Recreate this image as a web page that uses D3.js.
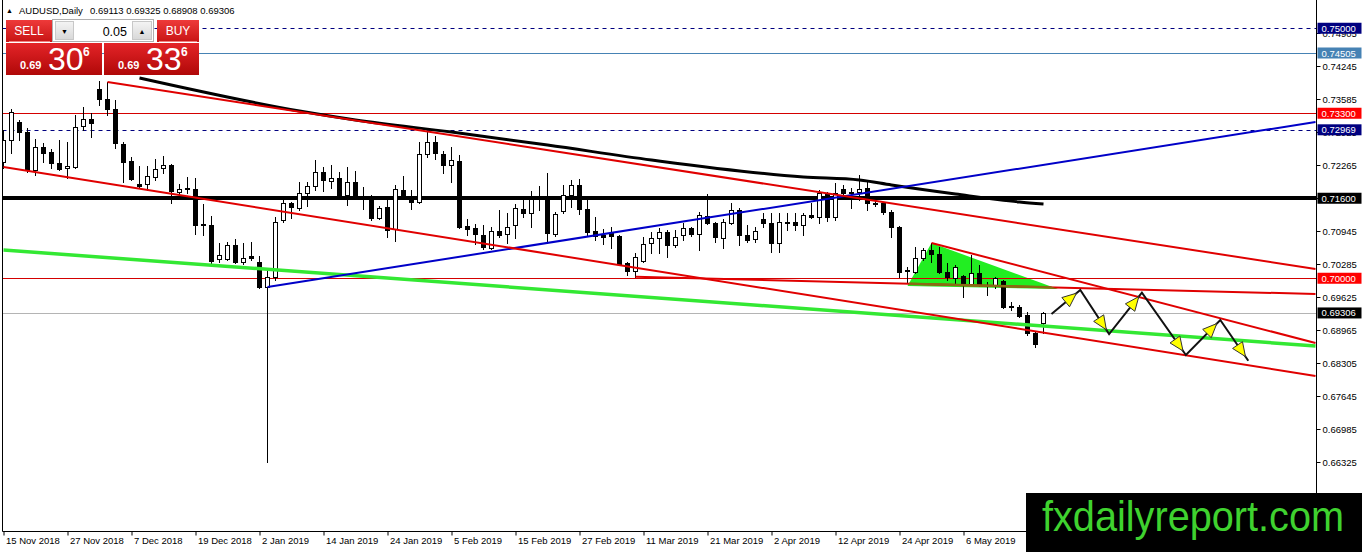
<!DOCTYPE html>
<html><head><meta charset="utf-8">
<script src="https://cdn.jsdelivr.net/npm/d3@7/dist/d3.min.js"></script>
<style>
body{margin:0;background:#fff;overflow:hidden;}
svg{display:block;}
text{font-family:"Liberation Sans",Arial,sans-serif;}
</style>
</head><body>
<svg id="chart" width="1362" height="552"></svg>
<script>
// ---------------- DATA ----------------
const symbolTitle = "AUDUSD,Daily";
const headerOHLC = "0.69113 0.69325 0.68908 0.69306";

const barOpen = [
0.72325,0.72765,0.73125,0.72925,0.72165,0.72625,0.72525,0.72305,0.72205,0.72225,
0.73045,0.73185,0.73785,0.73585,0.73385,0.72685,0.72345,0.71885,0.71885,0.72025,
0.72205,0.72265,0.71725,0.71805,0.71785,0.71085,0.71065,0.70385,0.70385,0.70665,
0.70325,0.70445,0.70325,0.69825,0.70025,0.71165,0.71505,0.71405,0.71705,0.71845,
0.72125,0.71945,0.72005,0.71665,0.71925,0.71645,0.71605,0.71205,0.71425,0.70985,
0.71765,0.71645,0.71525,0.72485,0.72725,0.72485,0.72265,0.72345,0.71045,0.71005,
0.70865,0.70605,0.70945,0.70885,0.71065,0.71385,0.71305,0.71585,0.71585,0.70885,
0.71345,0.71665,0.71865,0.71385,0.70945,0.70865,0.70905,0.70845,0.70305,0.70145,
0.70345,0.70705,0.70805,0.70925,0.70665,0.70865,0.71005,0.70885,0.71245,0.71105,
0.70805,0.71105,0.71365,0.70865,0.70785,0.71185,0.71105,0.70705,0.71105,0.71125,
0.71065,0.71265,0.71225,0.71685,0.71225,0.71785,0.71725,0.71725,0.71805,0.71505,
0.71505,0.71325,0.71025,0.70145,0.70125,0.70405,0.70565,0.70485,0.70125,0.70005,
0.70045,0.69885,0.70105,0.69845,0.69865,0.69945,0.69445,0.69425,0.69265,0.68905,
0.69113];
const barHigh = [
0.72965,0.73385,0.73165,0.73005,0.72785,0.72705,0.72585,0.72765,0.72725,0.73265,
0.73425,0.73305,0.73945,0.73925,0.73565,0.72725,0.72425,0.72245,0.72245,0.72385,
0.72445,0.72285,0.71885,0.72025,0.72005,0.71485,0.71245,0.70705,0.70725,0.70785,
0.70705,0.70725,0.70445,0.70185,0.71225,0.71565,0.71525,0.71925,0.71925,0.72365,
0.72225,0.72265,0.72125,0.72225,0.72145,0.71825,0.71665,0.71445,0.71645,0.71865,
0.72045,0.71765,0.72725,0.72925,0.72845,0.72545,0.72625,0.72465,0.71185,0.71085,
0.71065,0.71025,0.71365,0.71305,0.71485,0.71585,0.71745,0.71845,0.72105,0.71325,
0.71865,0.71965,0.71985,0.71645,0.71225,0.70985,0.71025,0.70865,0.70325,0.70505,
0.70825,0.70925,0.71005,0.70965,0.70965,0.71105,0.71025,0.71325,0.71685,0.71125,
0.71185,0.71505,0.71405,0.71065,0.71025,0.71305,0.71305,0.71305,0.71305,0.71305,
0.71305,0.71505,0.71765,0.71725,0.71905,0.71865,0.71805,0.72065,0.71965,0.71545,
0.71525,0.71365,0.71045,0.70225,0.70625,0.70605,0.70705,0.70625,0.70305,0.70265,
0.70065,0.70465,0.70265,0.69925,0.70025,0.69965,0.69525,0.69465,0.69325,0.68925,
0.69325];
const barLow = [
0.72205,0.72505,0.72765,0.72125,0.72065,0.72325,0.72205,0.72165,0.72005,0.72205,
0.72965,0.72825,0.73465,0.73265,0.72605,0.71925,0.71965,0.71825,0.71765,0.71965,
0.72105,0.71505,0.71665,0.71705,0.70885,0.70865,0.70285,0.70325,0.70365,0.70305,
0.70285,0.70365,0.69805,0.66325,0.69965,0.71125,0.71205,0.71365,0.71445,0.71765,
0.71745,0.71805,0.71625,0.71465,0.71605,0.71385,0.71165,0.71185,0.70825,0.70745,
0.71605,0.71385,0.71505,0.72425,0.72385,0.72105,0.71925,0.71005,0.70865,0.70685,
0.70585,0.70585,0.70825,0.70705,0.70805,0.71225,0.71025,0.71365,0.70705,0.70845,
0.71305,0.71425,0.71285,0.70865,0.70765,0.70685,0.70605,0.70265,0.70065,0.70025,
0.70325,0.70505,0.70505,0.70425,0.70625,0.70765,0.70845,0.70565,0.71085,0.70725,
0.70605,0.71085,0.70665,0.70725,0.70725,0.71025,0.70525,0.70525,0.70965,0.70965,
0.70865,0.71205,0.71105,0.71145,0.71165,0.71625,0.71405,0.71565,0.71365,0.71445,
0.71285,0.70825,0.70025,0.69905,0.70105,0.70365,0.70325,0.70105,0.69965,0.69865,
0.69625,0.69865,0.69845,0.69665,0.69805,0.69405,0.69365,0.69225,0.68865,0.68625,
0.68908];
const barClose = [
0.72765,0.73325,0.72925,0.72165,0.72625,0.72505,0.72305,0.72185,0.72245,0.73025,
0.73185,0.73105,0.73585,0.73385,0.72705,0.72325,0.71985,0.71845,0.72045,0.72185,
0.72265,0.71745,0.71785,0.71785,0.71065,0.71065,0.70345,0.70465,0.70665,0.70325,
0.70405,0.70405,0.69825,0.70025,0.71125,0.71505,0.71425,0.71705,0.71845,0.72125,
0.71965,0.72005,0.71665,0.71925,0.71645,0.71605,0.71205,0.71405,0.70965,0.71785,
0.71625,0.71525,0.72485,0.72725,0.72505,0.72265,0.72365,0.71025,0.70985,0.70885,
0.70625,0.70945,0.70865,0.71025,0.71405,0.71305,0.71585,0.71605,0.70905,0.71285,
0.71665,0.71865,0.71385,0.70925,0.70845,0.70825,0.70845,0.70285,0.70145,0.70425,
0.70685,0.70805,0.70925,0.70665,0.70825,0.71005,0.70885,0.71265,0.71105,0.70825,
0.71125,0.71365,0.70865,0.70765,0.70945,0.71105,0.70705,0.71125,0.71125,0.71065,
0.71265,0.71225,0.71705,0.71225,0.71705,0.71705,0.71705,0.71785,0.71505,0.71485,
0.71325,0.71025,0.70125,0.70165,0.70405,0.70565,0.70485,0.70125,0.70025,0.70225,
0.69865,0.70105,0.69865,0.69865,0.70005,0.69425,0.69425,0.69245,0.68905,0.68685,
0.69306];

const dateTickIdx = [0,8,16,24,32,40,48,56,64,72,80,88,96,104,112,120];
const dateLabels = ["15 Nov 2018","27 Nov 2018","7 Dec 2018","19 Dec 2018","2 Jan 2019","14 Jan 2019",
  "24 Jan 2019","5 Feb 2019","15 Feb 2019","27 Feb 2019","11 Mar 2019","21 Mar 2019","2 Apr 2019",
  "12 Apr 2019","24 Apr 2019","6 May 2019"];
const priceTicks = [0.65665,0.66325,0.66985,0.67645,0.68305,0.68965,0.69625,0.70285,0.70945,
  0.71605,0.72265,0.72925,0.73585,0.74245,0.74905];

// moving average curve (bar index, price)
const maIdx = [17,37,44,56,68,81,100,107,111,119,127,130];
const maVal = [0.74005,0.73345,0.73165,0.72925,0.72665,0.72365,0.72025,0.71965,0.71865,0.71685,0.71525,0.71485];

// horizontal levels
const levelPrices = [0.75000,0.74505,0.73300,0.72969,0.71600,0.70000,0.69306];
const levelKinds  = ["navyDash","steel","redThin","navyDash","blackThick","redThin","bid"];

// trend lines: [startBar, startPrice, endBar, endPrice]
const upperChannel = [13,0.73925,164,0.70185];
const lowerChannel = [0,0.72225,164,0.68045];
const greenLine    = [0,0.70565,164,0.68645];
const blueLine     = [33,0.69825,164,0.73125];
const redSupport   = [79,0.70030,164,0.69685];
const triangleTop  = [116,0.70705,164,0.68705];

// triangle vertices
const triIdx = [116,113,131.8];
const triVal = [0.70705,0.69845,0.69785];

// projected zigzag path
const zigIdx = [131,134.6,138.2,142.3,147.8,152.1,155.6];
const zigVal = [0.69285,0.69765,0.68885,0.69711,0.68465,0.69165,0.68351];

// trade panel
const sellBig = "30", buyBig = "33", pipFrac = "6", priceHandle = "0.69", lotSize = "0.05";
const logoText = "fxdailyreport.com";

// ---------------- CHART ----------------
const svg = d3.select("#chart");
const W = 1362, H = 552;
const plotL = 2.5, plotR = 1316.5, plotB = 531.5;

const x = d3.scaleLinear().domain([0,130]).range([3.5,1043.5]);
const y = d3.scaleLinear().domain([0.65665,0.75]).range([495,28.25]);

svg.append("rect").attr("width",W).attr("height",H).attr("fill","#fff");

const defs = svg.append("defs");
defs.append("clipPath").attr("id","plotclip").append("rect")
  .attr("x",plotL).attr("y",0).attr("width",plotR-plotL).attr("height",plotB);
defs.append("clipPath").attr("id","triclip").append("polygon")
  .attr("points",triIdx.map((d,k)=>[x(d),y(triVal[k])].join(",")).join(" "));
function grad(id,c1,c2){
  const g = defs.append("linearGradient").attr("id",id).attr("x1",0).attr("y1",0).attr("x2",0).attr("y2",1);
  g.append("stop").attr("offset","0%").attr("stop-color",c1);
  g.append("stop").attr("offset","100%").attr("stop-color",c2);
}
grad("gBtn","#ee3a3a","#c81414");
grad("gBox","#e42428","#b00808");
grad("gGray","#f4f4f4","#d8d8d8");

const plot = svg.append("g").attr("clip-path","url(#plotclip)");

// triangle (background object)
const triPts = triIdx.map((d,k)=>[x(d),y(triVal[k])]);
plot.append("polygon").attr("points",triPts.map(p=>p.join(",")).join(" "))
  .attr("fill","#22ee22");

// horizontal levels
const levelStyle = {
  navyDash:{stroke:"#000080",w:1,dash:"4,4"},
  steel:{stroke:"#4682b4",w:1,dash:null},
  redThin:{stroke:"#d40000",w:1,dash:null},
  blackThick:{stroke:"#000",w:4,dash:null},
  bid:{stroke:"#b4b4b4",w:1,dash:null}
};
levelPrices.forEach((p,k)=>{
  const s = levelStyle[levelKinds[k]];
  const yy = s.w%2 ? Math.round(y(p))+0.5 : Math.round(y(p));
  plot.append("line").attr("x1",plotL).attr("x2",plotR).attr("y1",yy).attr("y2",yy)
    .attr("stroke",s.stroke).attr("stroke-width",s.w).attr("stroke-dasharray",s.dash);
});

// candles
const bars = barOpen.map((o,i)=>({i,o,h:barHigh[i],l:barLow[i],c:barClose[i]}));
const cg = plot.append("g");
cg.selectAll("line.wick").data(bars).join("line").attr("class","wick")
  .attr("x1",d=>x(d.i)).attr("x2",d=>x(d.i))
  .attr("y1",d=>Math.round(y(d.h))).attr("y2",d=>Math.round(y(d.l))+1)
  .attr("stroke","#000").attr("stroke-width",1);
cg.selectAll("rect.body").data(bars).join("rect").attr("class","body")
  .attr("x",d=>x(d.i)-2).attr("width",4)
  .attr("y",d=>Math.round(y(Math.max(d.o,d.c)))+0.5)
  .attr("height",d=>Math.max(0.01,Math.round(y(Math.min(d.o,d.c)))-Math.round(y(Math.max(d.o,d.c)))))
  .attr("fill",d=>d.c>d.o?"#fff":"#000").attr("stroke","#000").attr("stroke-width",1);

// moving average
plot.append("path").datum(maIdx.map((d,k)=>[x(d),y(maVal[k])]))
  .attr("d",d3.line().curve(d3.curveMonotoneX))
  .attr("fill","none").attr("stroke","#000").attr("stroke-width",3);

// trend lines
function tline(t,color,w,clip){
  const l = plot.append("line").attr("x1",x(t[0])).attr("y1",y(t[1])).attr("x2",x(t[2])).attr("y2",y(t[3]))
    .attr("stroke",color).attr("stroke-width",w);
  if(clip) l.attr("clip-path",clip);
}
tline(greenLine,"#33e833",3.5);
tline(blueLine,"#0000c8",2);
tline(upperChannel,"#e00000",2);
tline(lowerChannel,"#e00000",2);
tline(redSupport,"#e00000",2);
tline(redSupport,"#8a6a14",2.5,"url(#triclip)");
tline(triangleTop,"#e00000",2);

// zigzag projection
const zp = zigIdx.map((d,k)=>[x(d),y(zigVal[k])]);
plot.append("path").datum(zp).attr("d",d3.line())
  .attr("fill","none").attr("stroke","#111").attr("stroke-width",2);
for(let k=1;k<zp.length;k++){
  const [x0,y0]=zp[k-1],[x1,y1]=zp[k];
  const len=Math.hypot(x1-x0,y1-y0), ux=(x1-x0)/len, uy=(y1-y0)/len;
  const tx=x1-ux*5, ty=y1-uy*5, L=14, hw=6;
  const bx=tx-ux*L, by=ty-uy*L;
  const pts=[[tx,ty],[bx-uy*hw,by+ux*hw],[bx+uy*hw,by-ux*hw]];
  plot.append("polygon").attr("points",pts.map(p=>p.join(",")).join(" "))
    .attr("fill","#ffff00").attr("stroke","#333").attr("stroke-width",1);
}

// frame
svg.append("line").attr("x1",plotL).attr("x2",plotL).attr("y1",0).attr("y2",plotB).attr("stroke","#000");
svg.append("line").attr("x1",plotL).attr("x2",plotR).attr("y1",plotB).attr("y2",plotB).attr("stroke","#000");
svg.append("line").attr("x1",plotR).attr("x2",plotR).attr("y1",0).attr("y2",plotB).attr("stroke","#000");

// bottom axis
const xAxis = svg.append("g").attr("transform",`translate(0,${plotB})`)
  .call(d3.axisBottom(x).tickValues(dateTickIdx).tickFormat((d,k)=>dateLabels[k]).tickSize(4));
xAxis.select(".domain").remove();
xAxis.selectAll("text").attr("text-anchor","start").attr("x",2).attr("y",6)
  .style("font-family","Liberation Sans, Arial, sans-serif").style("font-size","9.5px").attr("fill","#000");

// right axis
const yAxis = svg.append("g").attr("transform",`translate(${plotR},0)`)
  .call(d3.axisRight(y).tickValues(priceTicks).tickFormat(d3.format(".5f")).tickSize(4));
yAxis.select(".domain").remove();
yAxis.selectAll("text").attr("x",6)
  .style("font-family","Liberation Sans, Arial, sans-serif").style("font-size","9.5px").attr("fill","#000");

// level labels
const labelBg = {navyDash:"#000080",steel:"#4682b4",redThin:"#ff0000",blackThick:"#000",bid:"#000"};
levelPrices.forEach((p,k)=>{
  const yy = y(p);
  svg.append("rect").attr("x",plotR+1).attr("y",yy-5.5).attr("width",44).attr("height",11)
    .attr("fill",labelBg[levelKinds[k]]);
  svg.append("text").attr("x",plotR+5).attr("y",yy+3.5).attr("fill","#fff")
    .style("font-size","9.5px").text(d3.format(".5f")(p));
});

// header
svg.append("text").attr("x",6).attr("y",13).style("font-size","7px").text("▲");
svg.append("text").attr("x",19).attr("y",14).style("font-size","9.5px").text(symbolTitle);
svg.append("text").attr("x",90).attr("y",14).style("font-size","9.5px").text(headerOHLC);

// trade panel
const panel = svg.append("g");
panel.append("rect").attr("x",6).attr("y",20).attr("width",46).attr("height",22).attr("fill","url(#gBtn)");
panel.append("line").attr("x1",9).attr("x2",50).attr("y1",41.5).attr("y2",41.5).attr("stroke","#f08080");
panel.append("text").attr("x",29).attr("y",35).attr("text-anchor","middle").attr("fill","#fff")
  .style("font-size","12px").text("SELL");
panel.append("rect").attr("x",52.5).attr("y",19.5).attr("width",101).attr("height",22)
  .attr("fill","#fff").attr("stroke","#b0b0b0");
panel.append("rect").attr("x",55.5).attr("y",21.5).attr("width",18).attr("height",18)
  .attr("fill","url(#gGray)").attr("stroke","#c8c8c8");
panel.append("text").attr("x",64.5).attr("y",34).attr("text-anchor","middle").style("font-size","7px").text("▼");
panel.append("rect").attr("x",132.5).attr("y",21.5).attr("width",19).attr("height",18)
  .attr("fill","url(#gGray)").attr("stroke","#c8c8c8");
panel.append("text").attr("x",142).attr("y",34).attr("text-anchor","middle").style("font-size","7px").text("▲");
panel.append("text").attr("x",127).attr("y",35.5).attr("text-anchor","end").style("font-size","12.5px")
  .attr("fill","#000").text(lotSize);
panel.append("rect").attr("x",157).attr("y",20).attr("width",42).attr("height",22).attr("fill","url(#gBtn)");
panel.append("line").attr("x1",159).attr("x2",197).attr("y1",41.5).attr("y2",41.5).attr("stroke","#f08080");
panel.append("text").attr("x",178).attr("y",35).attr("text-anchor","middle").attr("fill","#fff")
  .style("font-size","12px").text("BUY");

function priceBox(x0,w,big){
  panel.append("rect").attr("x",x0).attr("y",43).attr("width",w).attr("height",32).attr("fill","url(#gBox)");
  panel.append("text").attr("x",x0+14).attr("y",68.5).attr("fill","#fff").style("font-size","11px")
    .style("font-weight","bold").text(priceHandle);
  panel.append("text").attr("x",x0+42).attr("y",70).attr("fill","#fff").style("font-size","32px").text(big);
  panel.append("text").attr("x",x0+77).attr("y",56).attr("fill","#fff").style("font-size","12px")
    .style("font-weight","bold").text(pipFrac);
}
priceBox(6,96,sellBig);
priceBox(104,95,buyBig);

// logo
svg.append("rect").attr("x",1026).attr("y",493).attr("width",336).attr("height",59).attr("fill","#000");
svg.append("text").attr("x",1042).attr("y",531).attr("fill","#3fd22f").style("font-size","42px")
  .attr("textLength",302).attr("lengthAdjust","spacingAndGlyphs").text(logoText);
</script>
</body></html>
